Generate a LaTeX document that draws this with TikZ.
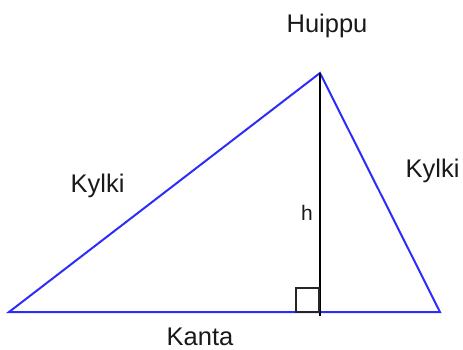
\documentclass[tikz,border=0pt]{standalone}
\usepackage{fontspec}
\setmainfont{Liberation Sans}
\usetikzlibrary{positioning}
\definecolor{sideblue}{RGB}{45,45,250}

\begin{document}
\begin{tikzpicture}[
  x=1pt, y=-1pt,
  side/.style={draw=sideblue, line width=2pt},
  alt/.style={draw=black, line width=1.6pt},
  mark90/.style={draw=black!85, line width=1.4pt},
  lbl/.style={anchor=base, text=black!90, inner sep=0pt, font=\fontsize{25.5}{30}\selectfont},
  hlbl/.style={lbl, font=\fontsize{21}{25}\selectfont},
]
\useasboundingbox (0,0) rectangle (463,349);
% vertices
\coordinate (left) at (9,312);
\coordinate (top) at (320,73);
\coordinate (right) at (440,312);
\coordinate (foot) at (320,316);
% triangle
\draw[side] (left) -- (top) -- (right) -- cycle;
% height and right angle
\draw[alt] (top) -- (foot);
\draw[mark90] (296,312) rectangle (319,288);
% labels
\node[lbl] (apex) at (327,32) {Huippu};
\node[lbl] (leg1) at (97.5,192) {Kylki};
\node[lbl] (leg2) at (432.5,177) {Kylki};
\node[hlbl] (hgt) at (307,220) {h};
\node[lbl] (base) at (200,345) {Kanta};
\end{tikzpicture}
\end{document}
